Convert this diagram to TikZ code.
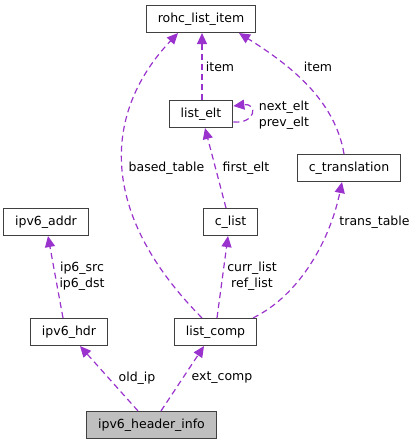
\documentclass[tikz,border=0pt]{standalone}
\usepackage{fontspec}
\setmainfont{DejaVu Sans}
\usepackage{xcolor}
\usepackage{tikz}
\usetikzlibrary{positioning}
\usetikzlibrary{arrows.meta}
\definecolor{edgepurple}{HTML}{9A32CD}
\definecolor{boxgray}{HTML}{BFBFBF}
\pgfdeclarelayer{nodelayer}
\pgfdeclarelayer{edgelayer}
\pgfsetlayers{nodelayer,edgelayer,main}
\tikzset{
  cls/.style={rectangle, draw=black!75, line width=1.1pt, inner xsep=11.5pt, inner ysep=0pt, minimum height=27pt, font=\fontsize{12.5}{16}\selectfont},
  lbl/.style={align=center, inner sep=0pt, font=\fontsize{12.5}{16}\selectfont},
  use/.style={draw=edgepurple, line width=1.2pt, dash pattern=on 6pt off 4pt, -{Triangle[length=11pt, width=10pt, fill=edgepurple]}}
}

\begin{document}
\begin{tikzpicture}[x=1pt, y=-1pt]
  \useasboundingbox (0, 0) rectangle (417, 445);
  \begin{pgfonlayer}{nodelayer}
    \node [cls] (0) at (201, 19) {rohc\_list\_item};
    \node [cls] (1) at (201, 114) {list\_elt};
    \node [cls] (2) at (349, 168) {c\_translation};
    \node [cls] (3) at (46, 222) {ipv6\_addr};
    \node [cls] (4) at (230.5, 222) {c\_list};
    \node [cls] (5) at (69, 332) {ipv6\_hdr};
    \node [cls] (6) at (215.5, 332) {list\_comp};
    \node [cls, fill=boxgray] (7) at (151.5, 425) {ipv6\_header\_info};
    \node [lbl] (8) at (220, 67) {item};
    \node [lbl] (9) at (318, 67) {item};
    \node [lbl] (10) at (284, 115) {next\_elt\\prev\_elt};
    \node [lbl] (11) at (166.5, 168) {based\_table};
    \node [lbl] (12) at (246, 168) {first\_elt};
    \node [lbl] (13) at (374.5, 222) {trans\_table};
    \node [lbl] (14) at (82, 276) {ip6\_src\\ip6\_dst};
    \node [lbl] (15) at (252, 276) {curr\_list\\ref\_list};
    \node [lbl] (16) at (137, 378) {old\_ip};
    \node [lbl] (17) at (222, 378) {ext\_comp};
  \end{pgfonlayer}
  \begin{pgfonlayer}{edgelayer}
    \draw [use] ([xshift=1pt]1.north) to ([xshift=1pt]0.south);
    \draw [use] ([xshift=-5pt]2.north) .. controls (335, 100) and (290, 65) .. ([xshift=38pt]0.south);
    \draw [use] ([xshift=-13.5pt]6.north) .. controls (95, 210) and (105, 110) .. ([xshift=-23pt]0.south);
    \draw [use] ([yshift=-8pt]1.east) .. controls (256, 124) and (258, 103) .. ([yshift=8pt]1.east);
    \draw [use] ([xshift=-4.5pt]4.north) to ([xshift=4pt]1.south);
    \draw [use] ([xshift=37.5pt]6.north) .. controls (300, 295) and (330, 240) .. ([xshift=-7pt]2.south);
    \draw [use] ([xshift=1.5pt]6.north) to ([xshift=-2.5pt]4.south);
    \draw [use] ([xshift=-6pt]5.north) to ([xshift=2pt]3.south);
    \draw [use] ([xshift=-13.5pt]7.north) to ([xshift=11pt]5.south);
    \draw [use] ([xshift=9.5pt]7.north) to ([xshift=-11.5pt]6.south);
  \end{pgfonlayer}
\end{tikzpicture}
\end{document}
